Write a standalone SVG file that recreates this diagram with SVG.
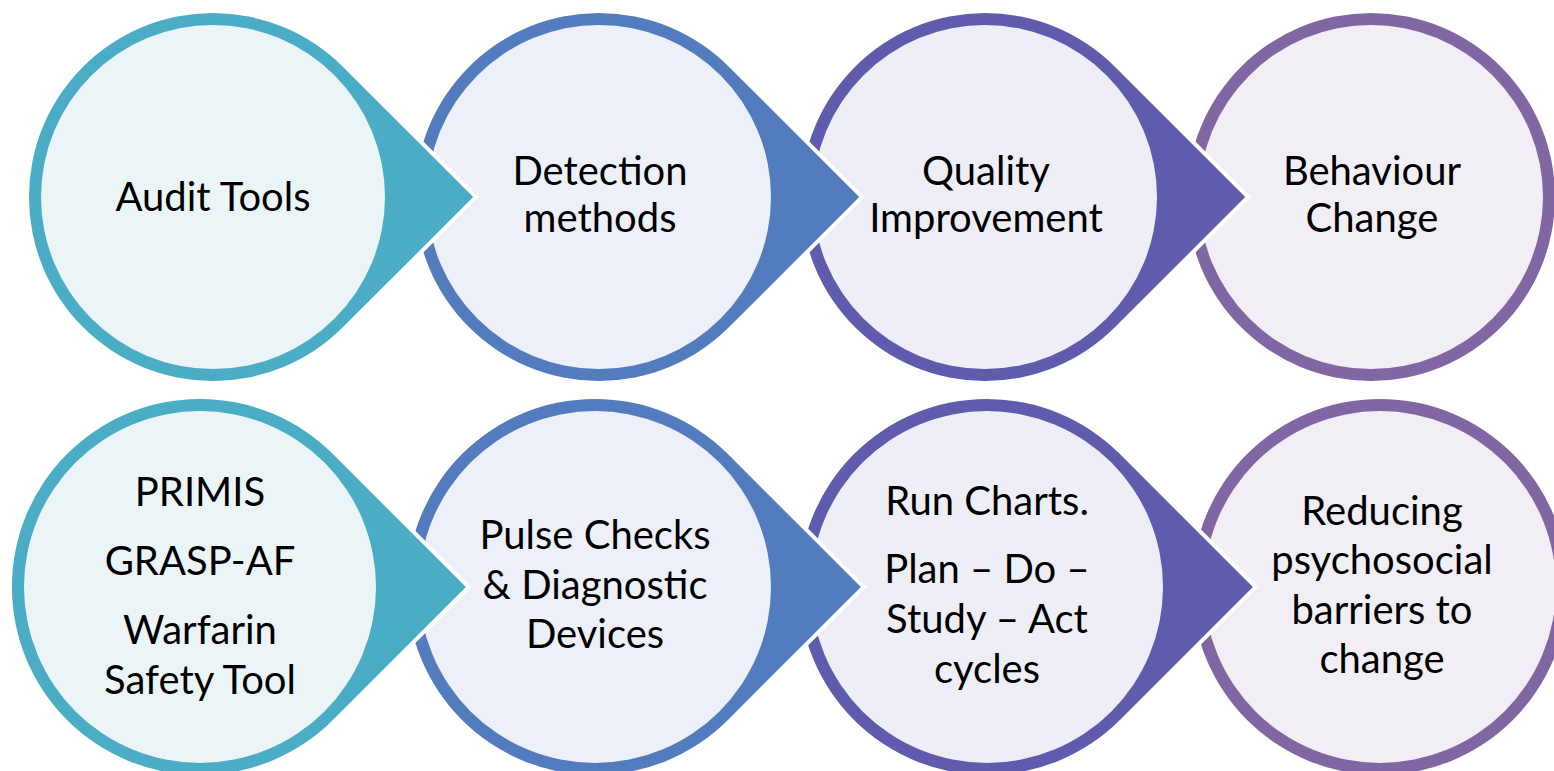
<svg xmlns="http://www.w3.org/2000/svg" width="1554" height="771" viewBox="0 0 1554 771">
<style>
.drop{stroke:#FFFFFF;stroke-width:8;paint-order:stroke;stroke-linejoin:miter}
.c1{fill:#4BACC6}.f1{fill:#EBF5F8}
.c2{fill:#527CBD}.f2{fill:#EDF0F8}
.c3{fill:#5F5BAD}.f3{fill:#EEEEF7}
.c4{fill:#8066A2}.f4{fill:#F1EFF5}
text{font-family:Lato,"Open Sans","Liberation Sans",sans-serif;font-size:40px;fill:#000000;text-anchor:middle}
</style>
<rect width="1554" height="771" fill="#FFFFFF"/>
<g id="connectors"></g>
<!-- top row: cy=197, R=184 ; drawn right to left -->
<g id="node-behaviour-change">
<circle class="c4" cx="1371" cy="197" r="184"/>
<circle class="f4" cx="1371" cy="197" r="172"/>
<text x="1372" y="185">Behaviour</text>
<text x="1372" y="232">Change</text>
</g>
<g id="node-quality-improvement">
<path class="drop c3" d="M1245.2,197 L1115.1,327.1 A184,184 0 1 1 1115.1,66.9 Z"/>
<circle class="f3" cx="985" cy="197" r="172"/>
<text x="986" y="185">Quality</text>
<text x="986" y="232">Improvement</text>
</g>
<g id="node-detection-methods">
<path class="drop c2" d="M859.2,197 L729.1,327.1 A184,184 0 1 1 729.1,66.9 Z"/>
<circle class="f2" cx="599" cy="197" r="172"/>
<text x="600" y="185">Detection</text>
<text x="600" y="232">methods</text>
</g>
<g id="node-audit-tools">
<path class="drop c1" d="M473.2,197 L343.1,327.1 A184,184 0 1 1 343.1,66.9 Z"/>
<circle class="f1" cx="213" cy="197" r="172"/>
<text x="213" y="211">Audit Tools</text>
</g>
<!-- bottom row: cy=587, R=188 -->
<g id="node-reducing-barriers">
<circle class="c4" cx="1380" cy="587" r="188"/>
<circle class="f4" cx="1380" cy="587" r="176"/>
<text x="1382" y="525">Reducing</text>
<text x="1382" y="574">psychosocial</text>
<text x="1382" y="624">barriers to</text>
<text x="1382" y="673">change</text>
</g>
<g id="node-run-charts">
<path class="drop c3" d="M1252.9,587 L1119.9,719.9 A188,188 0 1 1 1119.9,454.1 Z"/>
<circle class="f3" cx="987" cy="587" r="176"/>
<text x="987" y="515">Run Charts.</text>
<text x="987" y="583">Plan – Do –</text>
<text x="987" y="633">Study – Act</text>
<text x="987" y="683">cycles</text>
</g>
<g id="node-pulse-checks">
<path class="drop c2" d="M860.9,587 L727.9,719.9 A188,188 0 1 1 727.9,454.1 Z"/>
<circle class="f2" cx="595" cy="587" r="176"/>
<text x="595" y="549">Pulse Checks</text>
<text x="595" y="599">&amp; Diagnostic</text>
<text x="595" y="648">Devices</text>
</g>
<g id="node-audit-tools-list">
<path class="drop c1" d="M465.9,587 L332.9,719.9 A188,188 0 1 1 332.9,454.1 Z"/>
<circle class="f1" cx="200" cy="587" r="176"/>
<text x="200" y="506">PRIMIS</text>
<text x="200" y="575">GRASP-AF</text>
<text x="200" y="644">Warfarin</text>
<text x="200" y="694">Safety Tool</text>
</g>
</svg>
